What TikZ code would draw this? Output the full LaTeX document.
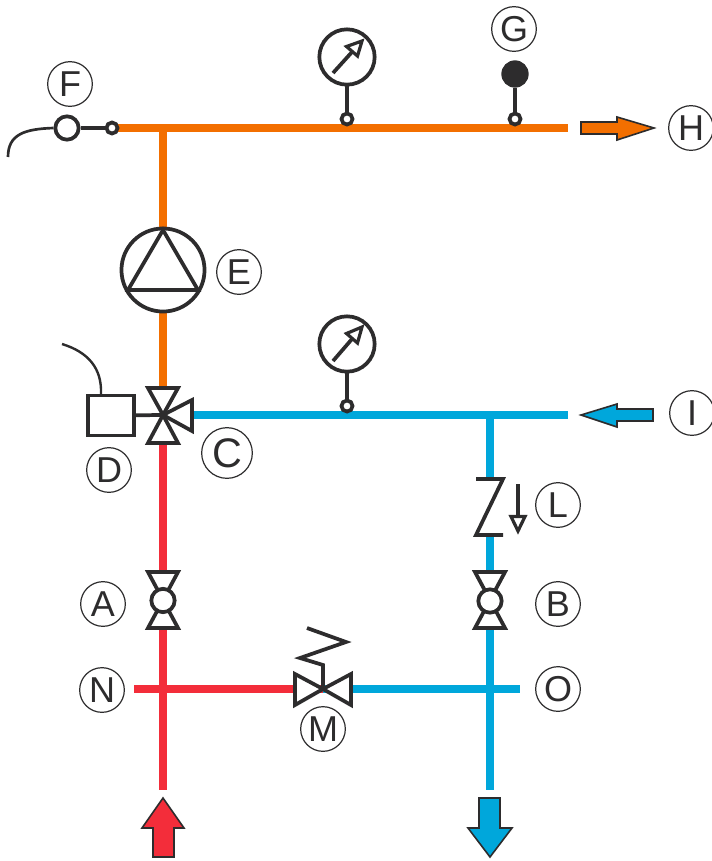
\documentclass[tikz,border=0pt]{standalone}
\usepackage{fontspec}
\setmainfont{Liberation Sans}
\definecolor{ink}{HTML}{2D2C2D}
\definecolor{hot}{HTML}{F32D3A}
\definecolor{warm}{HTML}{F36F00}
\definecolor{cold}{HTML}{00A7DB}
\tikzset{
  px/.style={x=0.75pt,y=-0.75pt},
  pipe/.style={line width=6pt},
  sym/.style={draw=ink,line width=2.8pt,line join=miter},
  thinsym/.style={draw=ink,line width=1.8pt},
  tag/.style={circle,draw=ink,line width=0.9pt,inner sep=0pt,minimum size=33.5pt,text=ink,font=\fontsize{27}{27}\selectfont},
  bigtag/.style={tag,minimum size=38pt,font=\fontsize{31}{31}\selectfont},
  tap/.style={circle,draw=ink,fill=white,line width=2.8pt,inner sep=0pt,minimum size=8.3pt},
  gaugebody/.style={circle,draw=ink,fill=white,line width=2.8pt,inner sep=0pt,minimum size=41.5pt},
  ball/.style={circle,draw=ink,fill=white,line width=2.8pt,inner sep=0pt,minimum size=17.5pt},
  flow/.style={draw=ink,line width=1.2pt,line join=miter},
}
\begin{document}
\begin{tikzpicture}[px]
\useasboundingbox (0,0) rectangle (711,861);
% junctions
\coordinate (tl) at (118,128);
\coordinate (tr) at (568,128);
\coordinate (tj) at (163,128);
\coordinate (v) at (163,415);
\coordinate (vb) at (163,443);
\coordinate (vt) at (163,388);
\coordinate (vr) at (192,415);
\coordinate (pumpc) at (163,270);
\coordinate (br) at (568,415);
\coordinate (bj) at (490,415);
\coordinate (zt) at (490,479);
\coordinate (zb) at (490,535);
\coordinate (redend) at (163,790);
\coordinate (bluend) at (490,790);
\coordinate (rl) at (134,689);
\coordinate (m) at (323,689);
\coordinate (bre) at (520,689);
\coordinate (g1c) at (347,57);
\coordinate (g2c) at (347,344);
% pipes
\draw[pipe,warm] (tl) -- (tr);
\draw[pipe,warm] (tj) -- (vt);
\draw[pipe,cold] (vr) -- (br);
\draw[pipe,cold] (bj) -- (zt);
\draw[pipe,cold] (zb) -- (bluend);
\draw[pipe,hot] (vb) -- (redend);
\draw[pipe,hot] (rl) -- (m);
\draw[pipe,cold] (m) -- (bre);
% pump
\node[circle,draw=ink,fill=white,line width=2.8pt,inner sep=0pt,minimum size=62.3pt] (pump) at (pumpc) {};
\draw[sym] (163,230) -- (198,290) -- (128,290) -- cycle;
% tags
\node[tag] (F) at (70,84) {F};
\node[tag] (E) at (239,272) {E};
\node[tag] (G) at (514,29) {G};
\node[tag] (H) at (691,128) {H};
\node[tag] (I) at (692,413) {I};
\node[tag] (D) at (109,470) {D};
\node[bigtag] (C) at (227,453) {C};
\node[tag] (L) at (558,505) {L};
\node[tag] (A) at (103,604) {A};
\node[tag] (B) at (558,604) {B};
\node[tag] (N) at (102,690) {N};
\node[tag] (O) at (558,689) {O};
\node[tag] (M) at (323,729) {M};
% sensor F
\node[ball] (fb) at (67,128) {};
\node[tap] (ft) at (112,128) {};
\draw[sym] (fb) -- (ft);
\coordinate (fe) at (8,157);
\draw[thinsym,line width=2pt] (fb.west) .. controls (25,129) and (8,134) .. (fe);
% gauge 1
\node[tap] (t1) at (347,119) {};
\draw[sym] (g1c) -- (t1);
\node[gaugebody] (g1) at (g1c) {};
\draw[sym] (333,73) -- (352,52);
\draw[sym,fill=white,line width=2.4pt] (362,41) -- (357.5,56) -- (346.5,46.5) -- cycle;
% gauge 2
\node[tap] (t2) at (347,406) {};
\draw[sym] (g2c) -- (t2);
\node[gaugebody] (g2) at (g2c) {};
\draw[sym] (333,361) -- (352,339);
\draw[sym,fill=white,line width=2.4pt] (362,327) -- (357.5,343) -- (346.5,333.5) -- cycle;
% G
\node[tap] (t3) at (515,119) {};
\node[circle,fill=ink,inner sep=0pt,minimum size=20.5pt] (gb) at (515,74) {};
\draw[sym] (gb) -- (t3);
% three-way valve and D
\node[draw=ink,fill=white,line width=2.8pt,minimum width=34pt,minimum height=30pt,inner sep=0pt] (dbox) at (111,415.5) {};
\draw[sym] (dbox) -- (v);
\draw[thinsym] (101,394) .. controls (102,368) and (88,352) .. (62,344);
\draw[sym,fill=white] (v) -- (148,388) -- (178,388) -- cycle;
\draw[sym,fill=white] (v) -- (148,443) -- (178,443) -- cycle;
\draw[sym,fill=white] (v) -- (192,400) -- (192,431) -- cycle;
% valve A
\draw[sym,fill=white] (163,600) -- (148,572) -- (178,572) -- cycle;
\draw[sym,fill=white] (163,600) -- (148,628) -- (178,628) -- cycle;
\node[ball] (va) at (163,600.5) {};
% valve B
\draw[sym,fill=white] (490,600) -- (475,572) -- (505,572) -- cycle;
\draw[sym,fill=white] (490,600) -- (475,628) -- (505,628) -- cycle;
\node[ball] (vb2) at (490,601) {};
% check valve L
\draw[sym,fill=none] (476,479) -- (503,479) -- (476,535) -- (503,535);
\draw[sym,line width=2.4pt] (518,484) -- (518,516);
\draw[sym,fill=white,line width=2.4pt] (511,516.5) -- (525,516.5) -- (518,531) -- cycle;
% valve M
\draw[sym,fill=white] (m) -- (295,674) -- (295,705) -- cycle;
\draw[sym,fill=white] (m) -- (351,674) -- (351,705) -- cycle;
\draw[sym] (m) -- (323,665) -- (300,658) -- (346,642) -- (307,628);
% flow arrows
\draw[flow,fill=warm] (581,122) -- (617,122) -- (617,117) -- (654,128) -- (617,140) -- (617,134) -- (581,134) -- cycle;
\draw[flow,fill=cold] (653,409) -- (617,409) -- (617,404) -- (581,415) -- (617,427) -- (617,421) -- (653,421) -- cycle;
\draw[flow,fill=hot] (163,798) -- (184,828) -- (174,828) -- (174,857) -- (153,857) -- (153,828) -- (142,828) -- cycle;
\draw[flow,fill=cold] (479,798) -- (500,798) -- (500,828) -- (512,828) -- (490,857) -- (468,828) -- (479,828) -- cycle;
\end{tikzpicture}
\end{document}
